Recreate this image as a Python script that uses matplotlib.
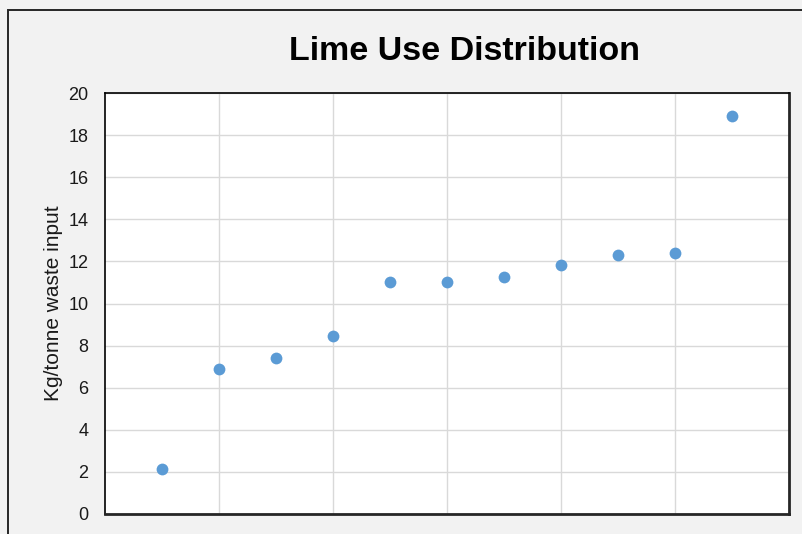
import matplotlib.pyplot as plt
from matplotlib.patches import Rectangle

plt.rcParams['font.family'] = ['Liberation Sans', 'DejaVu Sans']

# data
sample_no = [1, 2, 3, 4, 5, 6, 7, 8, 9, 10, 11]
lime_kg_t = [2.15, 6.9, 7.4, 8.45, 11.0, 11.0, 11.25, 11.85, 12.3, 12.4, 18.9]
y_ticks = [0, 2, 4, 6, 8, 10, 12, 14, 16, 18, 20]
x_grid = [2, 4, 6, 8, 10]

W, H = 802, 534
fig = plt.figure(figsize=(W / 100, H / 100), dpi=100)
fig.patch.set_facecolor('#f2f2f2')

# outer chart border (cropped at right / bottom)
fig.patches.append(Rectangle((8 / W, -0.1), 2, 1 - 10 / H + 0.1,
                             transform=fig.transFigure, fill=False,
                             edgecolor='#262626', linewidth=1.4))

ax = fig.add_axes([105 / W, 20 / H, 684 / W, 421 / H])
ax.set_facecolor('white')
ax.scatter(sample_no, lime_kg_t, s=72, color='#5b9bd5', zorder=3,
           linewidths=0)

ax.set_xlim(0, 12)
ax.set_ylim(0, 20)
ax.set_yticks(y_ticks)
ax.set_xticks(x_grid)
ax.set_xticklabels([])
ax.grid(True, color='#d9d9d9', linewidth=1.0)
ax.set_axisbelow(True)
ax.tick_params(length=0, labelsize=13, labelcolor='#1a1a1a', pad=12)

for side in ['top', 'left']:
    ax.spines[side].set_linewidth(1.2)
    ax.spines[side].set_color('black')
for side in ['bottom', 'right']:
    ax.spines[side].set_linewidth(2.0)
    ax.spines[side].set_color('#262626')

ax.set_ylabel('Kg/tonne waste input', fontsize=15, color='#1a1a1a',
              labelpad=4)
fig.text(464 / W, 1 - 52 / H, 'Lime Use Distribution', fontsize=24.5,
         fontweight='bold', ha='center', va='center', color='black')

fig.savefig('out.png', dpi=100, facecolor=fig.get_facecolor())
